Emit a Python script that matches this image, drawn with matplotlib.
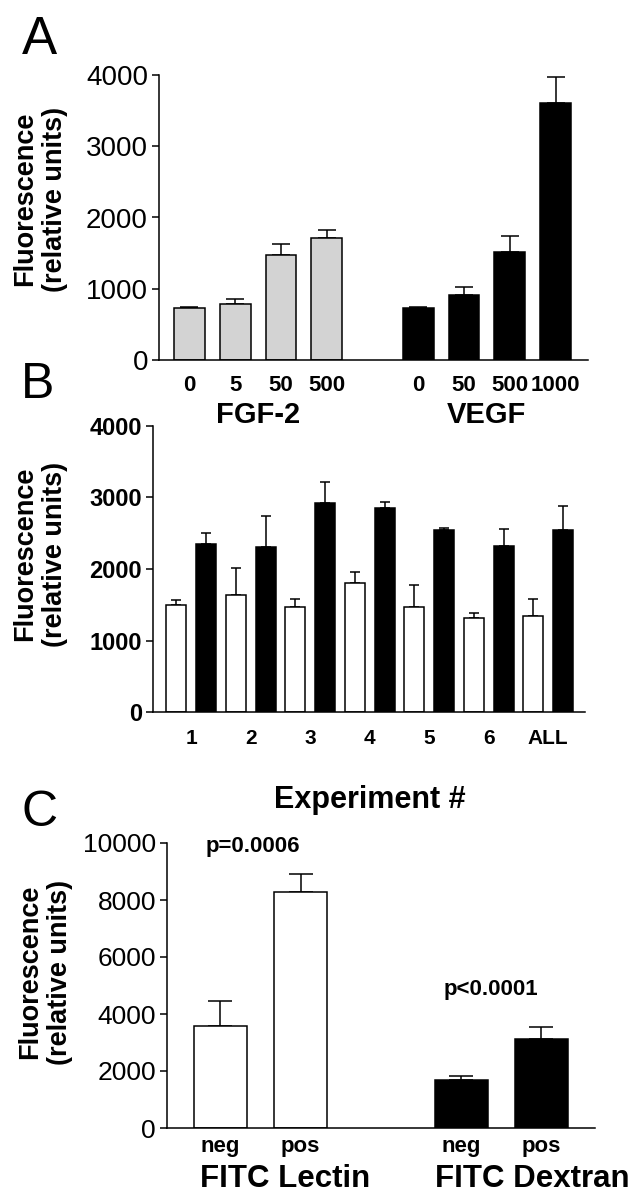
import matplotlib
matplotlib.use("Agg")
import matplotlib.pyplot as plt
import matplotlib.transforms as mtransforms
import numpy as np

plt.rcParams['font.family'] = ['Liberation Sans', 'DejaVu Sans']

# ---------------- data ----------------
# Panel A
a_fgf_labels = ["0", "5", "50", "500"]
a_fgf_values = [729, 785, 1467, 1708]
a_fgf_errors = [14, 75, 159, 112]
a_vegf_labels = ["0", "50", "500", "1000"]
a_vegf_values = [729, 911, 1519, 3607]
a_vegf_errors = [19, 112, 224, 365]
a_yticks = [0, 1000, 2000, 3000, 4000]

# Panel B
b_experiments = ["1", "2", "3", "4", "5", "6", "ALL"]
b_fgf_values = [1492, 1636, 1469, 1800, 1469, 1319, 1347]
b_fgf_errors = [70, 378, 111, 163, 307, 66, 238]
b_vegf_values = [2350, 2303, 2928, 2858, 2541, 2317, 2550]
b_vegf_errors = [153, 434, 289, 74, 32, 247, 331]
b_yticks = [0, 1000, 2000, 3000, 4000]

# Panel C
c_labels = ["neg", "pos"]
c_lectin_values = [3564, 8277]
c_lectin_errors = [891, 621]
c_dextran_values = [1700, 3107]
c_dextran_errors = [117, 445]
c_yticks = [0, 2000, 4000, 6000, 8000, 10000]
c_pvalues = ["p=0.0006", "p<0.0001"]

# ---------------- figure ----------------
W, H = 633, 1199
fig = plt.figure(figsize=(W / 100, H / 100), dpi=100)


def px_axes(left, right, top, bottom):
    return fig.add_axes([left / W, 1 - bottom / H, (right - left) / W, (bottom - top) / H])


def style(ax, ytick_size, ytick_weight):
    for s in ("top", "right"):
        ax.spines[s].set_visible(False)
    for s in ("left", "bottom"):
        ax.spines[s].set_linewidth(1.1)
    ax.tick_params(axis="y", length=5, width=1.1, pad=3, labelsize=ytick_size)
    for t in ax.get_yticklabels():
        t.set_fontweight(ytick_weight)
    ax.tick_params(axis="x", length=0)


def fig_y(y_px):
    return 1 - y_px / H


# ---------------- Panel A ----------------
axA = px_axes(159, 588, 75, 360)
xa_fgf = np.arange(len(a_fgf_values))
xa_vegf = np.arange(len(a_vegf_values)) + len(a_fgf_values) + 1
bw = 0.675
axA.bar(xa_fgf, a_fgf_values, bw, color="#d3d3d3", edgecolor="black", linewidth=1.1, zorder=2)
axA.bar(xa_vegf, a_vegf_values, bw, color="black", edgecolor="black", linewidth=1.1, zorder=2)
axA.errorbar(xa_fgf, a_fgf_values, yerr=[np.zeros(4), a_fgf_errors], fmt="none",
             ecolor="black", elinewidth=1.1, capsize=6.5, capthick=1.1, zorder=1)
axA.errorbar(xa_vegf, a_vegf_values, yerr=[np.zeros(4), a_vegf_errors], fmt="none",
             ecolor="black", elinewidth=1.1, capsize=6.5, capthick=1.1, zorder=1)
axA.set_ylim(0, 4000)
axA.set_xlim(-0.665, 8.71)
axA.set_yticks(a_yticks)
axA.set_xticks(list(xa_fgf) + list(xa_vegf))
axA.set_xticklabels(a_fgf_labels + a_vegf_labels, fontsize=16, fontweight="bold")
axA.tick_params(axis="x", pad=11)
style(axA, 20, "normal")
transA = mtransforms.blended_transform_factory(axA.transData, fig.transFigure)
axA.text(np.mean(xa_fgf), fig_y(423), "FGF-2", transform=transA, ha="center", va="baseline",
         fontsize=21, fontweight="bold")
axA.text(np.mean(xa_vegf), fig_y(423), "VEGF", transform=transA, ha="center", va="baseline",
         fontsize=21, fontweight="bold")

# ---------------- Panel B ----------------
axB = px_axes(153, 585, 426, 712)
xb = np.arange(len(b_experiments))
off = 0.252
bwb = 0.336
axB.bar(xb - off, b_fgf_values, bwb, color="white", edgecolor="black", linewidth=1.1, zorder=2)
axB.bar(xb + off, b_vegf_values, bwb, color="black", edgecolor="black", linewidth=1.1, zorder=2)
axB.errorbar(xb - off, b_fgf_values, yerr=[np.zeros(7), b_fgf_errors], fmt="none",
             ecolor="black", elinewidth=1.1, capsize=3.3, capthick=1.1, zorder=1)
axB.errorbar(xb + off, b_vegf_values, yerr=[np.zeros(7), b_vegf_errors], fmt="none",
             ecolor="black", elinewidth=1.1, capsize=3.3, capthick=1.1, zorder=1)
axB.set_ylim(0, 4000)
axB.set_xlim(-0.64, 6.62)
axB.set_yticks(b_yticks)
axB.set_xticks(xb)
axB.set_xticklabels(b_experiments, fontsize=15, fontweight="bold")
axB.tick_params(axis="x", pad=12)
style(axB, 17, "bold")
transB = mtransforms.blended_transform_factory(axB.transData, fig.transFigure)
axB.text(np.mean(xb), fig_y(808), "Experiment #", transform=transB, ha="center", va="baseline",
         fontsize=22, fontweight="bold")

# ---------------- Panel C ----------------
axC = px_axes(167, 595, 843, 1128)
xc_lec = np.arange(2)
xc_dex = np.arange(2) + 3
bwc = 0.66
axC.bar(xc_lec, c_lectin_values, bwc, color="white", edgecolor="black", linewidth=1.1, zorder=2)
axC.bar(xc_dex, c_dextran_values, bwc, color="black", edgecolor="black", linewidth=1.1, zorder=2)
axC.errorbar(xc_lec, c_lectin_values, yerr=[np.zeros(2), c_lectin_errors], fmt="none",
             ecolor="black", elinewidth=1.1, capsize=8.6, capthick=1.1, zorder=1)
axC.errorbar(xc_dex, c_dextran_values, yerr=[np.zeros(2), c_dextran_errors], fmt="none",
             ecolor="black", elinewidth=1.1, capsize=8.6, capthick=1.1, zorder=1)
axC.set_ylim(0, 10000)
axC.set_xlim(-0.665, 4.669)
axC.set_yticks(c_yticks)
axC.set_xticks(list(xc_lec) + list(xc_dex))
axC.set_xticklabels(c_labels + c_labels, fontsize=16, fontweight="bold")
axC.tick_params(axis="x", pad=6)
style(axC, 19, "normal")
transC = mtransforms.blended_transform_factory(axC.transData, fig.transFigure)
axC.text(xc_lec[0] - bwc / 2 + 0.08, fig_y(1187), "FITC Lectin", transform=transC, ha="left",
         va="baseline", fontsize=22.5, fontweight="bold")
axC.text(xc_dex[0] - bwc / 2 + 0.0, fig_y(1187), "FITC Dextran", transform=transC, ha="left",
         va="baseline", fontsize=22.5, fontweight="bold")
axC.text(0.4, fig_y(852), c_pvalues[0], transform=transC, ha="center", va="baseline",
         fontsize=16, fontweight="bold")
axC.text(3.37, fig_y(995), c_pvalues[1], transform=transC, ha="center", va="baseline",
         fontsize=16, fontweight="bold")

# ---------------- panel letters and y labels ----------------
fig.text(22 / W, fig_y(54), "A", fontsize=38, ha="left", va="baseline")
fig.text(21 / W, fig_y(398), "B", fontsize=36, ha="left", va="baseline")
fig.text(21 / W, fig_y(826), "C", fontsize=36, ha="left", va="baseline")

ylab = "Fluorescence\n(relative units)"
for xc, yc in ((40, 199), (40, 554), (45, 972)):
    fig.text(xc / W, fig_y(yc), ylab, rotation=90, ha="center", va="center",
             multialignment="center", fontsize=19.5, fontweight="bold", linespacing=1.2)

fig.savefig("out.png", dpi=100)
